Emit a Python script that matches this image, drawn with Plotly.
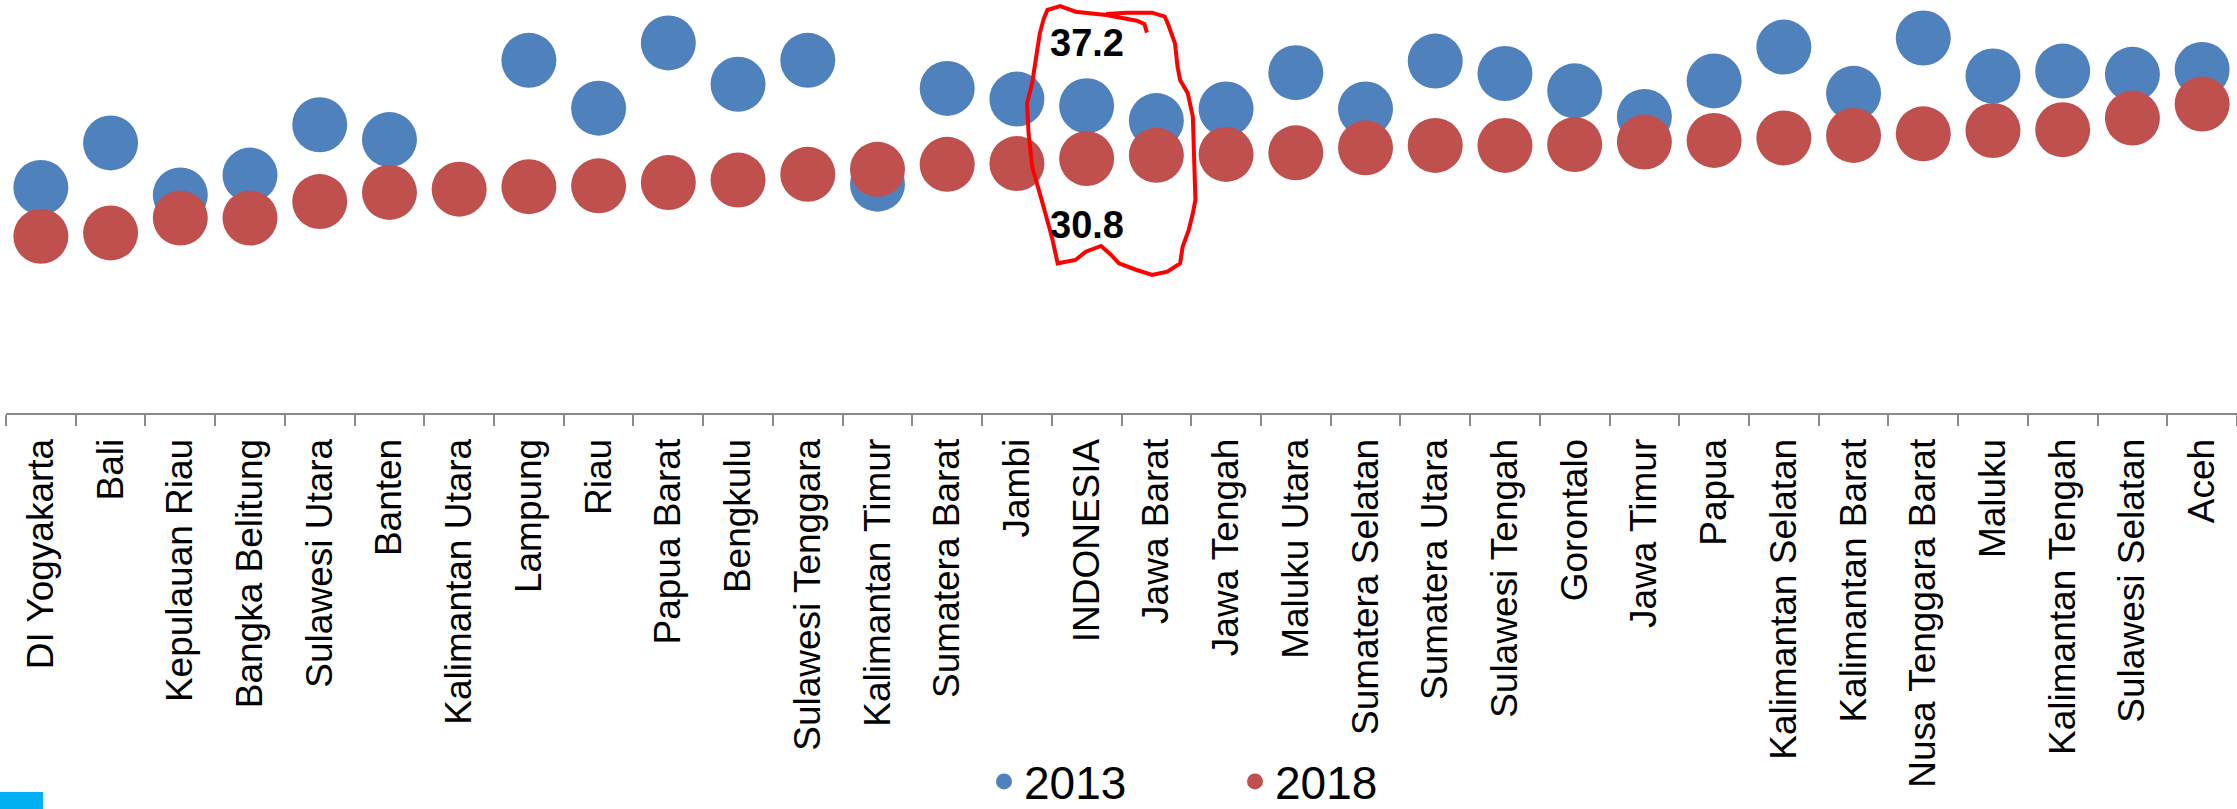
import plotly.graph_objects as go

categories = ["DI Yogyakarta", "Bali", "Kepulauan Riau", "Bangka Belitung", "Sulawesi Utara",
              "Banten", "Kalimantan Utara", "Lampung", "Riau", "Papua Barat", "Bengkulu",
              "Sulawesi Tenggara", "Kalimantan Timur", "Sumatera Barat", "Jambi", "INDONESIA",
              "Jawa Barat", "Jawa Tengah", "Maluku Utara", "Sumatera Selatan", "Sumatera Utara",
              "Sulawesi Tengah", "Gorontalo", "Jawa Timur", "Papua", "Kalimantan Selatan",
              "Kalimantan Barat", "Nusa Tenggara Barat", "Maluku", "Kalimantan Tengah",
              "Sulawesi Selatan", "Aceh"]

values_2013 = [27.3, 32.7, 26.4, 28.8, 34.9, 33.1, None, 42.7, 36.9, 44.8, 39.8,
               42.7, 27.7, 39.3, 38.0, 37.2, 35.4, 36.8, 41.2, 36.8, 42.6,
               41.1, 39.0, 35.9, 40.2, 44.3, 38.7, 45.4, 40.8, 41.4, 41.0, 41.6]

values_2018 = [21.4, 21.8, 23.6, 23.6, 25.6, 26.7, 27.1, 27.4, 27.5, 27.9, 28.2,
               28.9, 29.5, 30.1, 30.2, 30.8, 31.2, 31.3, 31.5, 32.1, 32.4,
               32.4, 32.5, 32.8, 33.0, 33.3, 33.6, 33.8, 34.2, 34.3, 35.7, 37.4]

series_names = ["2013", "2018"]
highlight = "INDONESIA"

W, H = 2237, 809
ML, MR, MT, MB = 6, 0, 0, 396
PW, PH = W - ML - MR, H - MT - MB

BLUE = "#4F81BD"
RED = "#C0504D"
AXIS_GRAY = "#8A8A8A"


def px_to_paper(x, y):
    return (x - ML) / PW, (H - MB - y) / PH


fig = go.Figure()
fig.add_trace(go.Scatter(x=categories, y=values_2013, mode="markers", name=series_names[0],
                         marker=dict(size=55, color=BLUE), cliponaxis=False))
fig.add_trace(go.Scatter(x=categories, y=values_2018, mode="markers", name=series_names[1],
                         marker=dict(size=55, color=RED), cliponaxis=False))

idx = categories.index(highlight)
ann_font = dict(family="Liberation Sans Narrow, Liberation Sans, Arial, sans-serif",
                size=38, color="black")
fig.add_annotation(x=highlight, y=values_2013[idx], text="<b>%.1f</b>" % values_2013[idx],
                   showarrow=False, yshift=63, font=ann_font)
fig.add_annotation(x=highlight, y=values_2018[idx], text="<b>%.1f</b>" % values_2018[idx],
                   showarrow=False, yshift=-66, font=ann_font)

# hand-drawn red outline (decoration), points measured in a 3x / 1.96x zoom of the reference
outline_zoom = [(680, 98), (675, 72), (660, 62), (600, 45), (540, 35), (510, 18), (485, 30),
                (478, 55), (470, 100), (460, 200), (455, 250), (445, 310), (448, 400),
                (455, 500), (470, 580), (490, 690), (495, 720), (505, 790), (540, 780),
                (560, 755), (590, 738), (610, 765), (625, 790), (660, 810), (690, 825),
                (720, 815), (745, 790), (750, 740), (762, 690), (770, 640), (775, 600),
                (770, 350), (760, 280), (745, 240), (740, 200), (735, 130), (722, 75),
                (715, 50), (690, 38), (640, 38), (600, 42)]
pts = [px_to_paper(800 + zx / 1.96, zy / 3.0) for zx, zy in outline_zoom]
path = "M " + " L ".join("%.5f,%.5f" % p for p in pts)
fig.add_shape(type="path", path=path, xref="paper", yref="paper",
              line=dict(color="#FF0000", width=4), fillcolor="rgba(0,0,0,0)")

# small cyan square at bottom-left corner
x0, y0 = px_to_paper(0, 792)
x1, y1 = px_to_paper(43, 809)
fig.add_shape(type="rect", xref="paper", yref="paper", x0=x0, y0=y0, x1=x1, y1=y1,
              fillcolor="#00B0F0", line=dict(width=0))

lx, ly = px_to_paper(984, 745)
fig.update_layout(
    width=W, height=H,
    margin=dict(l=ML, r=MR, t=MT, b=MB, autoexpand=False),
    paper_bgcolor="white", plot_bgcolor="white",
    showlegend=True,
    legend=dict(orientation="h", x=lx, y=ly, xanchor="left", yanchor="top",
                font=dict(family="Liberation Sans Narrow, Liberation Sans, Arial, sans-serif",
                          size=46, color="black"),
                entrywidth=206, bgcolor="rgba(0,0,0,0)"),
    xaxis=dict(type="category", range=[-0.5, len(categories) - 0.5],
               showline=True, linecolor=AXIS_GRAY, linewidth=2,
               ticks="outside", ticklen=11, tickwidth=2, tickcolor=AXIS_GRAY,
               tickson="boundaries", showgrid=False, zeroline=False, tickangle=-90,
               ticklabelstandoff=9,
               tickfont=dict(family="Liberation Sans, Arial, sans-serif", size=37,
                             color="black")),
    yaxis=dict(range=[0, 50], visible=False, showgrid=False, zeroline=False),
)

fig.write_html("out.html", config={"displayModeBar": False},
               post_script="document.body.style.margin='0';document.body.style.overflow='hidden';")
